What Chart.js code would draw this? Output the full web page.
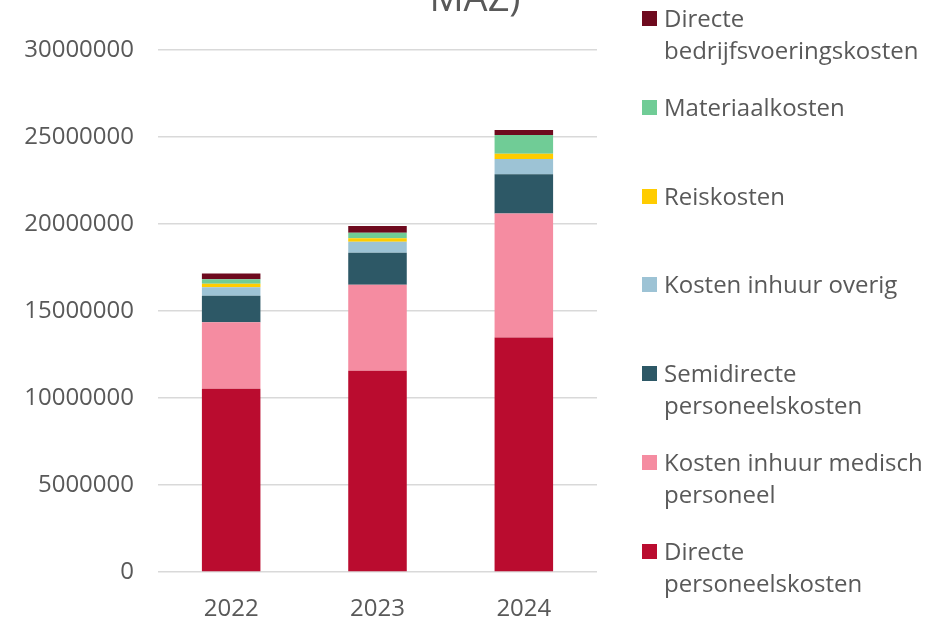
<!DOCTYPE html>
<html>
<head>
<meta charset="utf-8">
<script src="https://cdn.jsdelivr.net/npm/chart.js@4.4.1/dist/chart.umd.min.js"></script>
<style>
    html, body { margin: 0; padding: 0; background: #fff; overflow: hidden; }
    body { width: 950px; height: 618px; position: relative; font-family: 'Open Sans', sans-serif; }
    #chart-wrap { position: absolute; left: 0; top: 0; width: 950px; height: 618px; }
    #legend { position: absolute; left: 640px; top: 0; width: 310px; height: 618px; }
    .legend-item { position: absolute; left: 2px; width: 300px; }
    .legend-box { position: absolute; left: 0; top: 9px; width: 15px; height: 15px; }
    .legend-text { position: absolute; left: 22px; top: 0; width: 270px; font-size: 24px; line-height: 32px; color: #595959; }
</style>
</head>
<body>
<div id="chart-wrap"><canvas id="costChart"></canvas></div>
<div id="legend"></div>
<script>
const years = ['2022', '2023', '2024'];
const yTicks = [0, 5000000, 10000000, 15000000, 20000000, 25000000, 30000000];
const titleText = 'MAZ)';

// series, bottom to top of the stack
const directePersoneelskosten = [10530000, 11570000, 13470000];
const inhuurMedisch = [3830000, 4940000, 7130000];
const semidirectePersoneelskosten = [1510000, 1840000, 2260000];
const inhuurOverig = [500000, 630000, 880000];
const reiskosten = [190000, 200000, 300000];
const materiaalkosten = [270000, 320000, 1070000];
const bedrijfsvoeringskosten = [330000, 380000, 290000];

const seriesNames = [
    'Directe personeelskosten',
    'Kosten inhuur medisch personeel',
    'Semidirecte personeelskosten',
    'Kosten inhuur overig',
    'Reiskosten',
    'Materiaalkosten',
    'Directe bedrijfsvoeringskosten'
];
const seriesColors = ['#BA0C2F', '#F58CA1', '#2D5866', '#9DC3D5', '#FFCC00', '#70CC96', '#6E0A1E'];
const seriesValues = [directePersoneelskosten, inhuurMedisch, semidirectePersoneelskosten,
    inhuurOverig, reiskosten, materiaalkosten, bedrijfsvoeringskosten];

const textColor = '#595959';
const gridColor = '#D9D9D9';

const datasets = seriesValues.map((values, i) => ({
    label: seriesNames[i],
    data: values,
    backgroundColor: seriesColors[i],
    borderWidth: 0,
    categoryPercentage: 1.0,
    barPercentage: 0.4
}));

// title is centred on the whole canvas and cut off at the top edge
const topTitle = {
    id: 'topTitle',
    afterDraw(chart) {
        const c = chart.ctx;
        c.save();
        c.font = '38px "Open Sans"';
        c.fillStyle = textColor;
        c.textAlign = 'center';
        c.textBaseline = 'alphabetic';
        c.fillText(titleText, chart.width / 2, 11);
        c.restore();
    }
};

const ctx = document.getElementById('costChart').getContext('2d');
const costChart = new Chart(ctx, {
    type: 'bar',
    data: { labels: years, datasets: datasets },
    options: {
        responsive: true,
        maintainAspectRatio: false,
        animation: false,
        layout: { padding: { left: 0, right: 353, top: 50, bottom: 0 } },
        scales: {
            x: {
                stacked: true,
                grid: { display: false, drawTicks: false },
                border: { display: false },
                ticks: { color: textColor, font: { family: 'Open Sans', size: 24 }, padding: 23 },
                afterFit: axis => { axis.height = 46; }
            },
            y: {
                stacked: true,
                min: 0,
                max: 30000000,
                afterBuildTicks: axis => { axis.ticks = yTicks.map(v => ({ value: v })); },
                afterFit: axis => { axis.width = 158; },
                grid: { color: gridColor, lineWidth: 1.5, drawTicks: false },
                border: { display: false },
                ticks: {
                    color: textColor,
                    font: { family: 'Open Sans', size: 24 },
                    padding: 24,
                    callback: value => String(value)
                }
            }
        },
        plugins: {
            legend: { display: false },
            tooltip: { enabled: false }
        }
    },
    plugins: [topTitle]
});

// legend on the right, top item is the top of the stack
function buildLegend() {
    const legend = document.getElementById('legend');
    const order = datasets.map((d, i) => i).reverse();
    order.forEach((idx, pos) => {
        const item = document.createElement('div');
        item.className = 'legend-item';
        item.style.top = (2 + pos * 88.8) + 'px';
        const box = document.createElement('div');
        box.className = 'legend-box';
        box.style.background = seriesColors[idx];
        const text = document.createElement('div');
        text.className = 'legend-text';
        text.textContent = seriesNames[idx];
        item.appendChild(box);
        item.appendChild(text);
        legend.appendChild(item);
    });
}
buildLegend();
</script>
</body>
</html>
